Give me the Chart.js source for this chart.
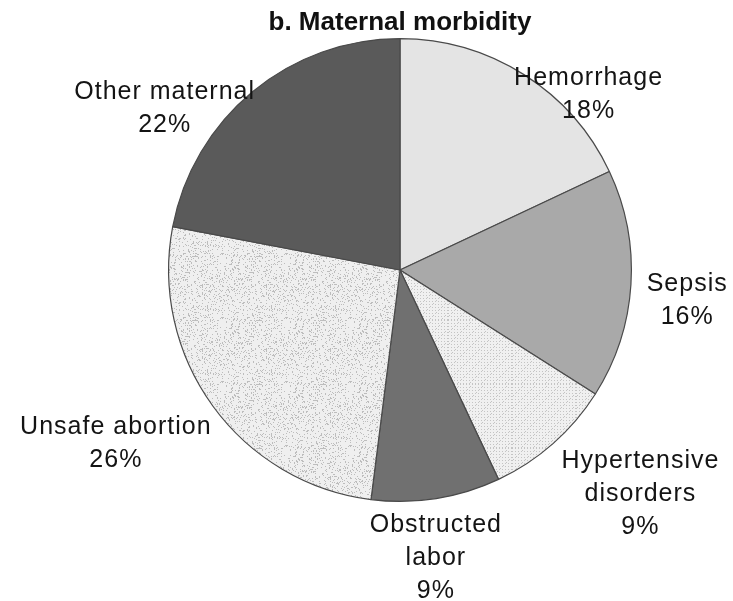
<!DOCTYPE html>
<html>
<head>
<meta charset="utf-8">
<script src="https://cdn.jsdelivr.net/npm/chart.js@4/dist/chart.umd.min.js"></script>
<style>
  html, body { margin: 0; padding: 0; background: #ffffff; }
  #wrap { width: 733px; height: 601px; position: relative; }
</style>
</head>
<body>
<div id="wrap"><canvas id="c" width="733" height="601"></canvas></div>
<script>
// ---- Data ----
const titleText = "b. Maternal morbidity";
const categories = ["Hemorrhage", "Sepsis", "Hypertensive disorders", "Obstructed labor", "Unsafe abortion", "Other maternal"];
const labelLines = [["Hemorrhage"], ["Sepsis"], ["Hypertensive", "disorders"], ["Obstructed", "labor"], ["Unsafe abortion"], ["Other maternal"]];
const shares = [18, 16, 9, 9, 26, 22];

// ---- Styles ----
function makePattern(bg, dot, mode) {
  const s = 64;
  const cv = document.createElement('canvas');
  cv.width = s; cv.height = s;
  const g = cv.getContext('2d');
  g.fillStyle = bg; g.fillRect(0, 0, s, s);
  g.fillStyle = dot;
  for (let y = 0; y < s; y++) {
    for (let x = 0; x < s; x++) {
      let on;
      if (mode === 'grid') {
        on = ((x % 3 === 0) && (y % 3 === 0)) || ((x % 3 === 1) && (y % 3 === 2) && ((x + y) % 4 === 0));
      } else {
        let h = (x * 374761393 + y * 668265263) >>> 0;
        h = ((h ^ (h >>> 13)) * 1274126177) >>> 0;
        on = (h % 100) < 14;
      }
      if (on) g.fillRect(x, y, 1, 1);
    }
  }
  return document.createElement('canvas').getContext('2d').createPattern(cv, 'repeat');
}
const fills = [
  '#e4e4e4',
  '#a9a9a9',
  makePattern('#f0f0f0', '#c4c4c4', 'grid'),
  '#707070',
  makePattern('#efefef', '#bdbdbd', 'noise'),
  '#5a5a5a'
];
// label centre offsets, relative to pie centre in units of radius
const labelOffsets = [[0.815, -0.759], [1.241, 0.131], [1.039, 0.970], [0.155, 1.246], [-1.228, 0.752], [-1.017, -0.696]];

const labelPlugin = {
  id: 'sliceLabels',
  afterDatasetsDraw(chart) {
    const ctx = chart.ctx;
    const meta = chart.getDatasetMeta(0);
    ctx.save();
    ctx.font = '25px "Liberation Sans", Arial, sans-serif';
    if ('letterSpacing' in ctx) ctx.letterSpacing = '1px';
    ctx.fillStyle = '#141414';
    ctx.textAlign = 'center';
    ctx.textBaseline = 'middle';
    const lh = 33;
    meta.data.forEach((arc, i) => {
      const r = arc.outerRadius;
      const lines = labelLines[i].concat([shares[i] + '%']);
      const cx = arc.x + labelOffsets[i][0] * r;
      const cy = arc.y + labelOffsets[i][1] * r;
      const y0 = cy - (lines.length - 1) * lh / 2;
      lines.forEach((t, k) => ctx.fillText(t, cx, y0 + k * lh));
    });
    ctx.restore();
  }
};
const titlePlugin = {
  id: 'topTitle',
  afterDraw(chart) {
    const ctx = chart.ctx;
    const meta = chart.getDatasetMeta(0);
    const cx = meta.data.length ? meta.data[0].x : chart.width / 2;
    ctx.save();
    ctx.font = 'bold 26px "Liberation Sans", Arial, sans-serif';
    ctx.fillStyle = '#111111';
    ctx.textAlign = 'center';
    ctx.textBaseline = 'middle';
    ctx.fillText(titleText, cx, 23);
    ctx.restore();
  }
};

new Chart(document.getElementById('c'), {
  type: 'pie',
  data: {
    labels: categories,
    datasets: [{
      data: shares,
      backgroundColor: fills,
      borderColor: '#4a4a4a',
      borderWidth: 1.2,
      borderAlign: 'center'
    }]
  },
  options: {
    responsive: false,
    animation: false,
    layout: { padding: { left: 168, right: 101, top: 38, bottom: 99 } },
    plugins: {
      legend: { display: false },
      title: { display: false },
      tooltip: { enabled: false }
    }
  },
  plugins: [labelPlugin, titlePlugin]
});
</script>
</body>
</html>
